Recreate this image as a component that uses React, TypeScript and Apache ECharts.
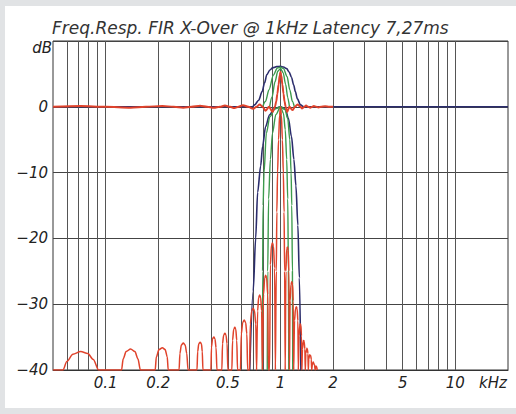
import React, { useEffect, useRef } from "react";
import * as echarts from "echarts";

// ---------- data (frequency in kHz, level in dB) ----------
const TITLE = "Freq.Resp. FIR X-Over @ 1kHz Latency 7,27ms";
const FREQ_LABELS = [0.1, 0.2, 0.5, 1, 2, 5, 10];
const GRID_FREQS = [
  0.06, 0.07, 0.08, 0.09, 0.1, 0.2, 0.3, 0.4, 0.5, 0.6, 0.7, 0.8, 0.9, 1,
  2, 3, 4, 5, 6, 7, 8, 9, 10,
];
const F_MIN = 0.05;
const F_MAX = 20;
const DB_MIN = -40;
const DB_MAX = 10;

// navy: sum (0 dB with bump) and band-pass
const navyUpper: number[][] = [
  [0.05, 0], [0.69, 0], [0.712, 0.3], [0.75, 1.0], [0.785, 2.3], [0.81, 3.6],
  [0.836, 4.9], [0.87, 5.6], [0.905, 5.95], [0.95, 6.1], [1.0, 6.15],
  [1.04, 6.05], [1.085, 5.8], [1.12, 5.3], [1.155, 4.5], [1.19, 3.3],
  [1.216, 2.3], [1.25, 1.2], [1.3, 0.3], [1.36, 0], [20, 0],
];
const navyLower: number[][] = [
  [0.667, -40], [0.698, -28], [0.721, -20], [0.74, -13], [0.77, -9],
  [0.79, -6], [0.822, -3], [0.866, -1.2], [0.924, -0.3], [1.0, 0],
  [1.068, -0.4], [1.11, -1.8], [1.155, -4.5], [1.193, -8], [1.225, -12],
  [1.257, -18], [1.282, -26], [1.308, -40],
];

// green: two band-passes and their sums
const greenOuterUpper: number[][] = [
  [0.79, 0], [0.82, 0.8], [0.86, 2.6], [0.91, 4.8], [0.96, 5.9], [1.0, 6.0],
  [1.04, 5.8], [1.09, 4.6], [1.13, 2.6], [1.17, 0.8], [1.2, 0],
];
const greenOuterLower: number[][] = [
  [0.788, -40], [0.79, -25], [0.795, -15], [0.805, -10], [0.83, -4],
  [0.87, -1.5], [0.93, -0.3], [1.0, 0], [1.06, -0.4], [1.1, -1.8],
  [1.13, -5], [1.15, -10], [1.16, -15], [1.17, -25], [1.175, -40],
];
const greenInnerUpper: number[][] = [
  [0.866, 0], [0.895, 1.5], [0.93, 3.8], [0.965, 5.4], [1.0, 5.8],
  [1.035, 5.2], [1.07, 3.4], [1.1, 1.4], [1.125, 0],
];
const greenInnerLower: number[][] = [
  [0.84, -40], [0.845, -25], [0.855, -14], [0.875, -8], [0.9, -4],
  [0.94, -1.2], [1.0, 0], [1.04, -1], [1.065, -3.5], [1.085, -8],
  [1.1, -14], [1.11, -25], [1.115, -40],
];

// red: narrow band-pass with side lobes, and its sum with ripple
const redUpper: number[][] = [
  [0.05, 0], [0.072, 0.12], [0.1, 0], [0.139, -0.13], [0.17, 0],
  [0.211, 0.13], [0.245, 0], [0.278, -0.14], [0.31, 0], [0.347, 0.15],
  [0.38, 0], [0.416, -0.16], [0.45, 0], [0.481, 0.18], [0.515, 0],
  [0.546, -0.2], [0.575, 0], [0.61, 0.25], [0.655, 0], [0.698, -0.3],
  [0.73, 0], [0.76, 0.35], [0.79, 0], [0.822, -0.6], [0.86, 0], [0.9, -0.8],
  [0.93, 0], [0.945, 0.8], [0.96, 2.0], [0.975, 3.4], [0.99, 4.8],
  [1.0, 5.3], [1.01, 4.8], [1.025, 3.4], [1.04, 2.0], [1.055, 0.8],
  [1.07, 0], [1.09, -0.8], [1.125, 0], [1.17, -0.5], [1.21, 0],
  [1.25, 0.35], [1.3, 0], [1.33, -0.25], [1.37, 0], [1.4, 0.2], [1.44, 0],
  [1.48, -0.15], [1.52, 0], [1.55, 0.12], [1.6, 0], [1.65, -0.1], [1.7, 0],
  [1.8, 0.08], [1.9, 0], [2.0, 0],
];
const redLower: number[][] = [
  [0.05, -40],
  [0.057, -40], [0.06, -38.7], [0.065, -37.6], [0.072, -37.2], [0.079, -37.5], [0.085, -38.4], [0.0912, -40],
  [0.1233, -40], [0.126, -38.3], [0.131, -37.2], [0.139, -36.8], [0.147, -37.2], [0.153, -38.3], [0.158, -40],
  [0.192, -40], [0.195, -38], [0.202, -36.9], [0.211, -36.6], [0.219, -36.9], [0.225, -38], [0.228, -40],
  [0.263, -40], [0.266, -37.5], [0.271, -36.2], [0.278, -35.9], [0.285, -36.2], [0.291, -37.5], [0.296, -40],
  [0.333, -40], [0.336, -37.2], [0.341, -36], [0.347, -35.8], [0.353, -36], [0.357, -37.2], [0.36, -40],
  [0.4, -40], [0.403, -36.5], [0.409, -35.2], [0.416, -35], [0.422, -35.3], [0.428, -36.6], [0.433, -40],
  [0.462, -40], [0.466, -36], [0.473, -34.7], [0.481, -34.4], [0.488, -34.7], [0.495, -36], [0.5, -40],
  [0.527, -40], [0.532, -35.5], [0.54, -33.8], [0.548, -33.5], [0.555, -33.8], [0.562, -35.5], [0.568, -40],
  [0.59, -40], [0.597, -34.5], [0.608, -32.8], [0.62, -32.4], [0.632, -32.8], [0.642, -34.5], [0.649, -40],
  [0.665, -40], [0.672, -33], [0.685, -31], [0.698, -30.6], [0.71, -31], [0.722, -33], [0.73, -40],
  [0.733, -40], [0.74, -31], [0.75, -29], [0.76, -28.6], [0.77, -29], [0.78, -31], [0.788, -40],
  [0.792, -40], [0.8, -28.5], [0.812, -26], [0.822, -25.6], [0.833, -26], [0.845, -28.5], [0.853, -40],
  [0.866, -40], [0.875, -24], [0.888, -21], [0.9, -20.7], [0.912, -21.2], [0.925, -24.5], [0.935, -40],
  [0.94, -40], [0.946, -25], [0.953, -16], [0.962, -10], [0.975, -5], [0.988, -1.3], [1.0, 0],
  [1.012, -1.3], [1.025, -5], [1.038, -10], [1.048, -16], [1.056, -25], [1.064, -40],
  [1.068, -40], [1.074, -25], [1.085, -21.6], [1.096, -21.3], [1.107, -21.8], [1.117, -25], [1.125, -40],
  [1.128, -40], [1.135, -29.5], [1.148, -27], [1.16, -26.6], [1.172, -27], [1.183, -29.5], [1.19, -40],
  [1.195, -40], [1.203, -32.5], [1.218, -30.7], [1.232, -30.4], [1.245, -30.7], [1.257, -32.5], [1.265, -40],
  [1.268, -40], [1.276, -34.8], [1.29, -33.2], [1.298, -33], [1.308, -33.2], [1.318, -34.8], [1.325, -40],
  [1.328, -40], [1.336, -36.8], [1.348, -35.7], [1.356, -35.5], [1.366, -35.7], [1.378, -36.8], [1.386, -40],
  [1.389, -40], [1.397, -37.5], [1.41, -36.8], [1.415, -36.7], [1.425, -36.8], [1.435, -37.5], [1.442, -40],
  [1.444, -40], [1.452, -38.3], [1.468, -37.7], [1.476, -37.7], [1.488, -37.8], [1.5, -38.4], [1.508, -40],
  [1.512, -40], [1.522, -39.2], [1.538, -38.8], [1.55, -38.8], [1.565, -39.2], [1.578, -40],
  [1.583, -40], [1.595, -39.4], [1.61, -39.5], [1.622, -40],
];

const NAVY = "#2b2d6c";
const GREEN = "#3c9a4c";
const RED = "#e0432c";

const FONT = "DejaVu Sans";

function toLog(points: number[][]) {
  return points.map(([f, db]) => [Math.log10(f), db]);
}

function line(name: string, data: number[][], color: string, width: number, z: number) {
  return {
    name,
    type: "line",
    data: toLog(data),
    showSymbol: false,
    symbol: "none",
    smooth: 0.3,
    smoothMonotone: "x",
    clip: true,
    z,
    lineStyle: { color, width },
    emphasis: { disabled: true },
  };
}

export default function App() {
  const ref = useRef<HTMLDivElement>(null);

  useEffect(() => {
    document.body.style.margin = "0";
    const chart = echarts.init(ref.current!, null, { renderer: "svg" });
    const fmtFreq = (v: number) => String(parseFloat(Math.pow(10, v).toPrecision(2)));
    chart.setOption({
      animation: false,
      title: {
        text: TITLE,
        left: 52,
        top: 19,
        padding: 0,
        textStyle: {
          fontFamily: FONT,
          fontStyle: "italic",
          fontWeight: "normal",
          fontSize: 17,
          color: "#333",
        },
      },
      grid: {
        left: 53,
        right: 8,
        top: 41,
        bottom: 44,
        show: true,
        borderColor: "#333",
        borderWidth: 1,
        backgroundColor: "#fff",
      },
      xAxis: {
        type: "value",
        min: Math.log10(F_MIN),
        max: Math.log10(F_MAX),
        name: "kHz",
        nameLocation: "end",
        nameGap: -29,
        nameTextStyle: {
          fontFamily: FONT,
          fontStyle: "italic",
          fontSize: 15,
          color: "#222",
          align: "left",
          verticalAlign: "top",
          padding: [5, 0, 0, 0],
        },
        axisLine: { show: true, onZero: false, lineStyle: { color: "#333", width: 1 } },
        axisTick: { show: false, customValues: GRID_FREQS.map(Math.log10) },
        axisLabel: {
          customValues: FREQ_LABELS.map(Math.log10),
          formatter: fmtFreq,
          margin: 5,
          fontFamily: FONT,
          fontStyle: "italic",
          fontSize: 15,
          color: "#222",
        },
        splitLine: { show: true, lineStyle: { color: "#555", width: 1 } },
      },
      yAxis: {
        type: "value",
        min: DB_MIN,
        max: DB_MAX,
        interval: 10,
        name: "dB",
        nameLocation: "end",
        nameGap: -7,
        nameTextStyle: {
          fontFamily: FONT,
          fontStyle: "italic",
          fontSize: 15,
          color: "#222",
          align: "right",
          verticalAlign: "middle",
          padding: [0, 1, 0, 0],
        },
        axisLine: { show: false, onZero: false },
        axisTick: { show: false },
        axisLabel: {
          margin: 5,
          fontFamily: FONT,
          fontStyle: "italic",
          fontSize: 15,
          color: "#222",
          formatter: (v: number) => (v >= DB_MAX ? "" : v < 0 ? "\u2212" + Math.abs(v) : String(v)),
        },
        splitLine: { show: true, lineStyle: { color: "#444", width: 1 } },
      },
      series: [
        line("navy sum", navyUpper, NAVY, 1.6, 2),
        line("navy band", navyLower, NAVY, 1.6, 2),
        line("green outer sum", greenOuterUpper, GREEN, 1.4, 3),
        line("green outer band", greenOuterLower, GREEN, 1.4, 3),
        line("green inner sum", greenInnerUpper, GREEN, 1.4, 3),
        line("green inner band", greenInnerLower, GREEN, 1.4, 3),
        line("red band", redLower, RED, 1.5, 4),
        line("red sum", redUpper, RED, 2, 4),
      ],
    });
    return () => chart.dispose();
  }, []);

  return (
    <div style={{ position: "relative", width: 516, height: 414, background: "#e1e3e5" }}>
      <div style={{ position: "absolute", left: 5, top: 6, width: 511, height: 402, background: "#fff" }} />
      <div ref={ref} style={{ position: "absolute", left: 0, top: 0, width: 516, height: 414 }} />
    </div>
  );
}
